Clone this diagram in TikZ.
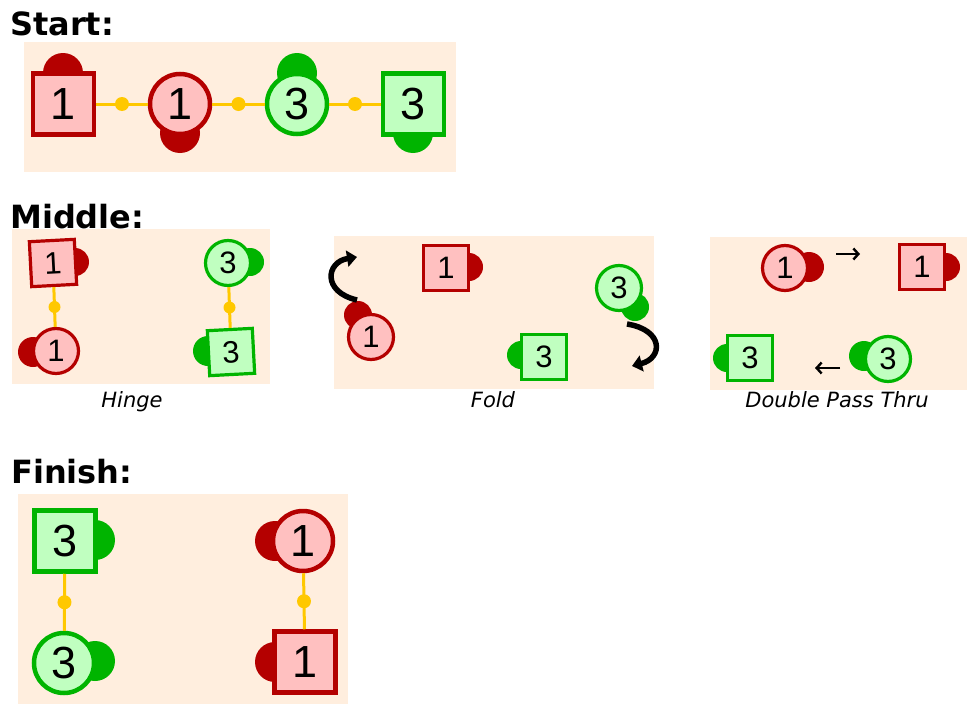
\documentclass[tikz,border=0pt]{standalone}
\usepackage{fontspec}
\setmainfont{Liberation Sans}
\newfontfamily\headfont{DejaVu Sans}
\usetikzlibrary{arrows.meta}
\definecolor{bgc}{HTML}{FFEEDE}
\definecolor{redB}{HTML}{B40000}
\definecolor{redF}{HTML}{FFC0C0}
\definecolor{grnB}{HTML}{00B400}
\definecolor{grnF}{HTML}{C0FFC0}
\definecolor{yel}{HTML}{FFC800}
\begin{document}
\begin{tikzpicture}[x=1pt,y=-1pt,
  panel/.style={fill=bgc,draw=none},
  heading/.style={anchor=base west,inner sep=0pt,font=\headfont\bfseries\fontsize{32}{32}\selectfont},
  caption/.style={anchor=base,inner sep=0pt,font=\headfont\itshape\fontsize{21}{21}\selectfont},
  big/.style={line width=4.5pt,inner sep=0pt,font=\fontsize{45}{45}\selectfont},
  small/.style={line width=3.2pt,inner sep=0pt,font=\fontsize{31}{31}\selectfont},
  bigsq/.style={big,rectangle,minimum size=61pt},
  bigci/.style={big,circle,minimum size=60pt},
  smsq/.style={small,rectangle,minimum size=45pt},
  smci/.style={small,circle,minimum size=45pt},
  redc/.style={draw=redB,fill=redF},
  grnc/.style={draw=grnB,fill=grnF},
  conn/.style={draw=yel,line width=3pt},
  joint/.style={circle,fill=yel,minimum size=14pt,inner sep=0pt},
  foldarrow/.style={line width=5.5pt,-{Triangle[length=10pt,width=16pt]}},
  passarrow/.style={line width=2.4pt,-{Straight Barb[length=5pt,width=11pt]}}
]
\useasboundingbox (0,0) rectangle (967,704);

% ---------- Start ----------
\fill[bgc] (24,42) rectangle (456,172);
\node[heading] (hstart) at (10,35) {Start:};
\fill[redB] (63,73) circle[radius=20pt];
\fill[redB] (180,133) circle[radius=20pt];
\fill[grnB] (297,73) circle[radius=20pt];
\fill[grnB] (413,133) circle[radius=20pt];
\node[bigsq,redc] (s1) at (63.5,104) {1};
\node[bigci,redc] (s2) at (180,104) {1};
\node[bigci,grnc] (s3) at (297,104) {3};
\node[bigsq,grnc] (s4) at (413.5,104) {3};
\draw[conn] (s1) -- (s2) node[midway,joint] {};
\draw[conn] (s2) -- (s3) node[midway,joint] {};
\draw[conn] (s3) -- (s4) node[midway,joint] {};

% ---------- Middle ----------
\node[heading] (hmid) at (10,228) {Middle:};
\fill[bgc] (12,229) rectangle (270,384);
\fill[bgc] (334,236) rectangle (654,389);
\fill[bgc] (710,237) rectangle (967,390);

% Hinge
\fill[redB] (75,262) circle[radius=14pt];
\fill[redB] (33,352) circle[radius=15pt];
\fill[grnB] (250,262) circle[radius=14pt];
\fill[grnB] (208,351) circle[radius=15pt];
\node[smsq,redc,rotate=3] (h1) at (53,263) {1};
\node[smci,redc] (h2) at (56,351) {1};
\node[smci,grnc] (h3) at (228,263) {3};
\node[smsq,grnc,rotate=3] (h4) at (231,352) {3};
\draw[conn] (h1) -- (h2) node[midway,joint,minimum size=12pt] {};
\draw[conn] (h3) -- (h4) node[midway,joint,minimum size=12pt] {};
\node[caption] (lhinge) at (132,407) {Hinge};

% Fold
\fill[redB] (469,267) circle[radius=14pt];
\fill[redB] (358,315) circle[radius=14pt];
\fill[grnB] (635,307) circle[radius=14pt];
\fill[grnB] (521,355) circle[radius=14pt];
\node[smsq,redc] (f1) at (446,268) {1};
\node[smci,redc] (f2) at (371,337) {1};
\node[smci,grnc] (f3) at (619,288) {3};
\node[smsq,grnc] (f4) at (544,357) {3};
\coordinate (fa1) at (357,300);
\coordinate (fa2) at (357,257);
\coordinate (fb1) at (627,324);
\coordinate (fb2) at (632,366);
\draw[foldarrow] (fa1) .. controls (322,292) and (326,262) .. (fa2);
\draw[foldarrow] (fb1) .. controls (664,330) and (663,358) .. (fb2);
\node[caption] (lfold) at (493,407) {Fold};

% Double Pass Thru
\fill[redB] (809,267) circle[radius=15pt];
\fill[redB] (946,267) circle[radius=14pt];
\fill[grnB] (727,358) circle[radius=14pt];
\fill[grnB] (864,356) circle[radius=15pt];
\node[smci,redc] (d1) at (785,268) {1};
\node[smsq,redc] (d2) at (922,267) {1};
\node[smsq,grnc] (d3) at (750,358) {3};
\node[smci,grnc] (d4) at (888,359) {3};
\coordinate (da1) at (836,254);
\coordinate (da2) at (860,254);
\coordinate (db1) at (840,368);
\coordinate (db2) at (815,368);
\draw[passarrow] (da1) -- (da2);
\draw[passarrow] (db1) -- (db2);
\node[caption] (lpass) at (837,407) {Double Pass Thru};

% ---------- Finish ----------
\node[heading] (hfin) at (11,483) {Finish:};
\fill[bgc] (18,494) rectangle (348,704);
\fill[grnB] (95,540) circle[radius=20pt];
\fill[grnB] (95,661) circle[radius=20pt];
\fill[redB] (275,541) circle[radius=20pt];
\fill[redB] (275,662) circle[radius=20pt];
\node[bigsq,grnc] (e1) at (65,541) {3};
\node[bigci,grnc] (e2) at (64,663) {3};
\node[bigci,redc] (e3) at (303,541) {1};
\node[bigsq,redc] (e4) at (305,662) {1};
\draw[conn] (e1) -- (e2) node[midway,joint] {};
\draw[conn] (e3) -- (e4) node[midway,joint] {};
\end{tikzpicture}
\end{document}
